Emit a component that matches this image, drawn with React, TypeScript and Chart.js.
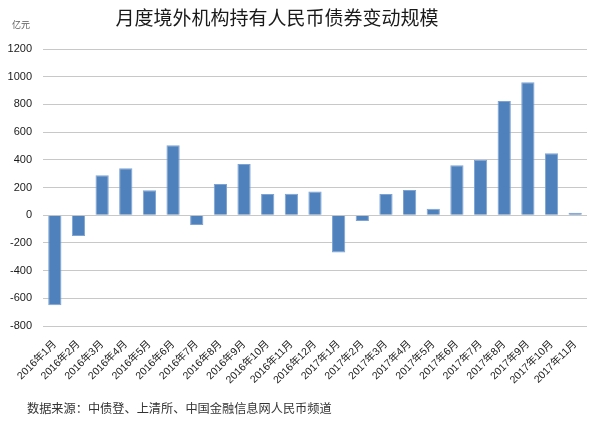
import React, { useEffect, useRef } from "react";
import { Chart, registerables } from "chart.js";

Chart.register(...registerables);

const categories = [
  "2016年1月", "2016年2月", "2016年3月", "2016年4月", "2016年5月", "2016年6月",
  "2016年7月", "2016年8月", "2016年9月", "2016年10月", "2016年11月", "2016年12月",
  "2017年1月", "2017年2月", "2017年3月", "2017年4月", "2017年5月", "2017年6月",
  "2017年7月", "2017年8月", "2017年9月", "2017年10月", "2017年11月",
];
const values = [
  -650, -150, 288, 339, 180, 505, -71, 225, 370, 153, 155, 172,
  -270, -42, 153, 182, 47, 360, 401, 825, 960, 447, 18,
];
const yMin = -800;
const yMax = 1200;
const yStep = 200;
const titleText = "月度境外机构持有人民币债券变动规模";
const unitText = "亿元";
const sourceText = "数据来源：中债登、上清所、中国金融信息网人民币频道";

const textPlugin = {
  id: "extraText",
  afterDraw(chart: any) {
    const ctx = chart.ctx;
    ctx.save();
    ctx.fillStyle = "#1a1a1a";
    ctx.font = '19px "Noto Sans CJK SC", serif';
    ctx.textAlign = "center";
    ctx.textBaseline = "middle";
    ctx.fillText(titleText, 277, 18);
    ctx.fillStyle = "#595959";
    ctx.font = '9px "Noto Sans CJK SC", sans-serif';
    ctx.textAlign = "left";
    ctx.fillText(unitText, 12, 25);
    ctx.fillStyle = "#333333";
    ctx.font = '12.2px "Noto Sans CJK SC", serif';
    ctx.fillText(sourceText, 27, 408);
    ctx.restore();
  },
};

export default function App() {
  const ref = useRef<HTMLCanvasElement | null>(null);
  useEffect(() => {
    if (!ref.current) return;
    const chart = new Chart(ref.current, {
      type: "bar",
      data: {
        labels: categories,
        datasets: [
          {
            data: values,
            backgroundColor: "#4F81BD",
            borderColor: "#7EA3D3",
            borderWidth: 1,
            barPercentage: 0.56,
            categoryPercentage: 1,
          },
        ],
      },
      options: {
        animation: false,
        responsive: false,
        maintainAspectRatio: false,
        layout: { padding: { top: 49, left: 0, right: 13, bottom: 0 } },
        plugins: {
          legend: { display: false },
          tooltip: { enabled: false },
          title: { display: false },
        },
        scales: {
          x: {
            grid: { display: false, drawTicks: false },
            border: { display: false },
            ticks: {
              minRotation: 45,
              maxRotation: 45,
              autoSkip: false,
              padding: 12,
              color: "#1a1a1a",
              font: { size: 10.5, family: '"Liberation Sans", "Noto Sans CJK SC", sans-serif' },
            },
            afterFit(scale: any) {
              scale.height = 97;
            },
          },
          y: {
            min: yMin,
            max: yMax,
            grid: { color: "#c8c8c8", lineWidth: 1, drawTicks: false },
            border: { display: false },
            ticks: {
              stepSize: yStep,
              padding: 11,
              color: "#1a1a1a",
              font: { size: 11, family: '"Liberation Sans", sans-serif' },
              callback: (v: any) => String(v),
            },
            afterFit(scale: any) {
              scale.width = 43;
            },
          },
        },
      },
      plugins: [textPlugin],
    });
    return () => chart.destroy();
  }, []);
  return (
    <div style={{ position: "fixed", left: 0, top: 0, width: 600, height: 423, background: "#fff" }}>
      <canvas ref={ref} width={600} height={423} />
    </div>
  );
}
